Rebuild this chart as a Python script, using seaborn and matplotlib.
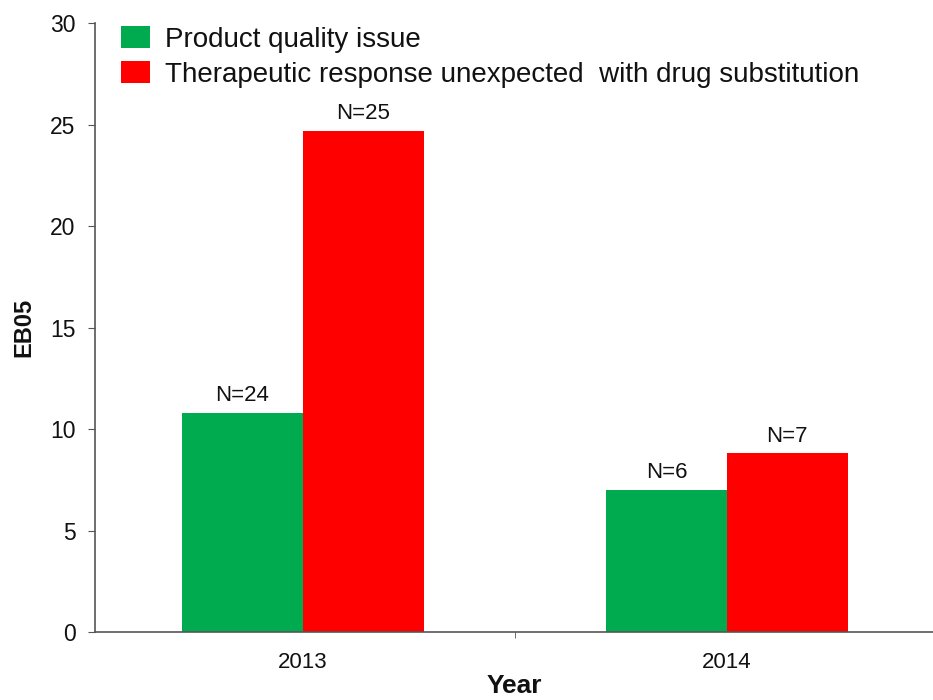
import pandas as pd
import matplotlib
matplotlib.use("Agg")
import matplotlib.pyplot as plt
import seaborn as sns

years = ['2013', '2014']
series = ['Product quality issue',
          'Therapeutic response unexpected  with drug substitution']
quality = [10.8, 7.0]
therapeutic = [24.7, 8.8]
n_quality = ['N=24', 'N=6']
n_therapeutic = ['N=25', 'N=7']
colors = ['#00AA4F', '#FF0000']

df = pd.DataFrame({
    'Year': years * 2,
    'Type': [series[0]] * 2 + [series[1]] * 2,
    'EB05': quality + therapeutic,
})

sns.set_style('white')
plt.rcParams['font.family'] = ['Liberation Sans', 'DejaVu Sans']
plt.rcParams['text.color'] = '#111111'
plt.rcParams['axes.labelcolor'] = '#111111'
plt.rcParams['xtick.color'] = '#111111'
plt.rcParams['ytick.color'] = '#111111'

fig = plt.figure(figsize=(9.33, 7), dpi=100)
ax = fig.add_axes([0.102, 0.097, 0.898, 0.87])

sns.barplot(data=df, x='Year', y='EB05', hue='Type', palette=colors,
            width=0.57, gap=0, saturation=1, ax=ax, errorbar=None,
            linewidth=0, edgecolor='none')

for cont, labels in zip(ax.containers, [n_quality, n_therapeutic]):
    ax.bar_label(cont, labels=labels, padding=5, fontsize=16)

ax.set_ylim(0, 30)
ax.set_xlim(-0.49, 1.486)
ax.set_yticks(range(0, 31, 5))
ax.set_xticks([0.5], minor=True)
ax.tick_params(axis='y', labelsize=16.5, length=5, color='#555555', direction='out', left=True, pad=9)
ax.tick_params(axis='x', which='major', labelsize=16, length=0, pad=14)
ax.tick_params(axis='x', which='minor', length=4, color='#555555', direction='out', bottom=True)
ax.set_xlabel('Year', fontsize=19, fontweight='bold', labelpad=1)
ax.set_ylabel('EB05', fontsize=17, fontweight='bold', labelpad=11)

sns.despine(ax=ax)
for s in ['left', 'bottom']:
    ax.spines[s].set_color('#555555')
    ax.spines[s].set_linewidth(1.2)

leg = ax.legend(loc='upper left', bbox_to_anchor=(0.017, 1.013), frameon=False,
                fontsize=20, handlelength=1.05, handleheight=0.8,
                labelspacing=0.32, handletextpad=0.54, borderaxespad=0)

fig.savefig('out.png', dpi=100)
